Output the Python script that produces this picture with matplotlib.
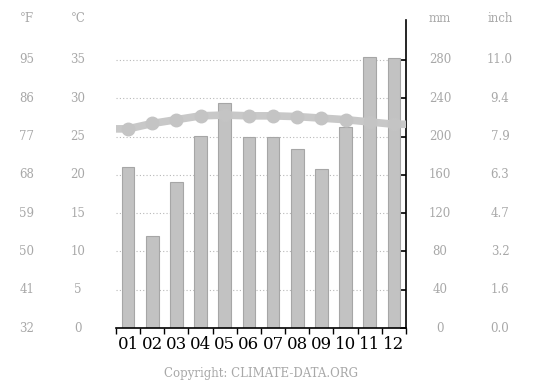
import matplotlib
matplotlib.use("Agg")
import matplotlib.pyplot as plt

# Dados do climograma
meses = ["01", "02", "03", "04", "05", "06", "07", "08", "09", "10", "11", "12"]
precip_mm = [168, 96, 152, 201, 235, 200, 200, 187, 166, 210, 283, 282]
temp_c = [26.0, 26.7, 27.2, 27.7, 27.8, 27.7, 27.7, 27.6, 27.4, 27.2, 26.9, 26.6]

ticks_mm = [0, 40, 80, 120, 160, 200, 240, 280]
rotulos_inch = ["0.0", "1.6", "3.2", "4.7", "6.3", "7.9", "9.4", "11.0"]
rotulos_c = ["0", "5", "10", "15", "20", "25", "30", "35"]
rotulos_f = ["32", "41", "50", "59", "68", "77", "86", "95"]

cinza_txt = "#a8a8a8"
fonte = "DejaVu Serif"

fig = plt.figure(figsize=(5.36, 3.89), dpi=100)
ax = fig.add_axes([116 / 536, 1 - 328 / 389, 290 / 536, 308 / 389])

x = list(range(12))
ax.set_xlim(-0.5, 11.5)
ax.set_ylim(0, 321.7)

# grade pontilhada
for v in ticks_mm[1:]:
    ax.axhline(v, color="#b8b8b8", linestyle=(0, (1, 2)), linewidth=0.8, zorder=0)

# barras de precipitação
ax.bar(x, precip_mm, width=0.52, color="#c2c2c2", edgecolor="#a6a6a6", linewidth=0.8, zorder=2)

# linha de temperatura (1 °C = 8 mm), prolongada até as bordas
temp_mm = [t * 8 for t in temp_c]
xl = [-0.5] + x + [11.5]
yl = [temp_mm[0]] + temp_mm + [temp_mm[-1]]
ax.plot(xl, yl, color="#c8c8c8", linewidth=5.5, zorder=3, solid_capstyle="butt")
ax.plot(x, temp_mm, "o", color="#c4c4c4", markersize=9, zorder=4)

# eixos
for s in ["top", "left"]:
    ax.spines[s].set_visible(False)
ax.spines["right"].set_linewidth(1.2)
ax.spines["bottom"].set_linewidth(1.2)

ax.yaxis.tick_right()
ax.set_yticks(ticks_mm)
ax.set_yticklabels([])
ax.tick_params(axis="y", direction="in", length=4, width=1.2, color="black")

ax.set_xticks([i - 0.5 for i in range(13)])
ax.set_xticklabels([])
ax.tick_params(axis="x", direction="out", length=4, width=1, color="black")

for i, m in enumerate(meses):
    ax.text(i, -8, m, ha="center", va="top", fontsize=12, family=fonte, color="black")

# rótulos laterais (°F, °C à esquerda; mm, inch à direita)
inv = fig.transFigure.inverted()
colunas = [(27, rotulos_f, "°F"), (78, rotulos_c, "°C"),
           (440, [str(v) for v in ticks_mm], "mm"), (500, rotulos_inch, "inch")]
for xpix, rotulos, unidade in colunas:
    for v, r in zip(ticks_mm, rotulos):
        yf = inv.transform(ax.transData.transform((0, v)))[1]
        fig.text(xpix / 536, yf, r, fontsize=8.5, family=fonte, color=cinza_txt,
                 ha="center", va="center")
    fig.text(xpix / 536, 1 - 18 / 389, unidade, fontsize=8.5, family=fonte, color=cinza_txt,
             ha="center", va="center")

fig.text(261 / 536, 1 - 373 / 389, "Copyright: CLIMATE-DATA.ORG", fontsize=8.5, family=fonte,
         color=cinza_txt, ha="center", va="center")

fig.savefig("out.png", dpi=100)
